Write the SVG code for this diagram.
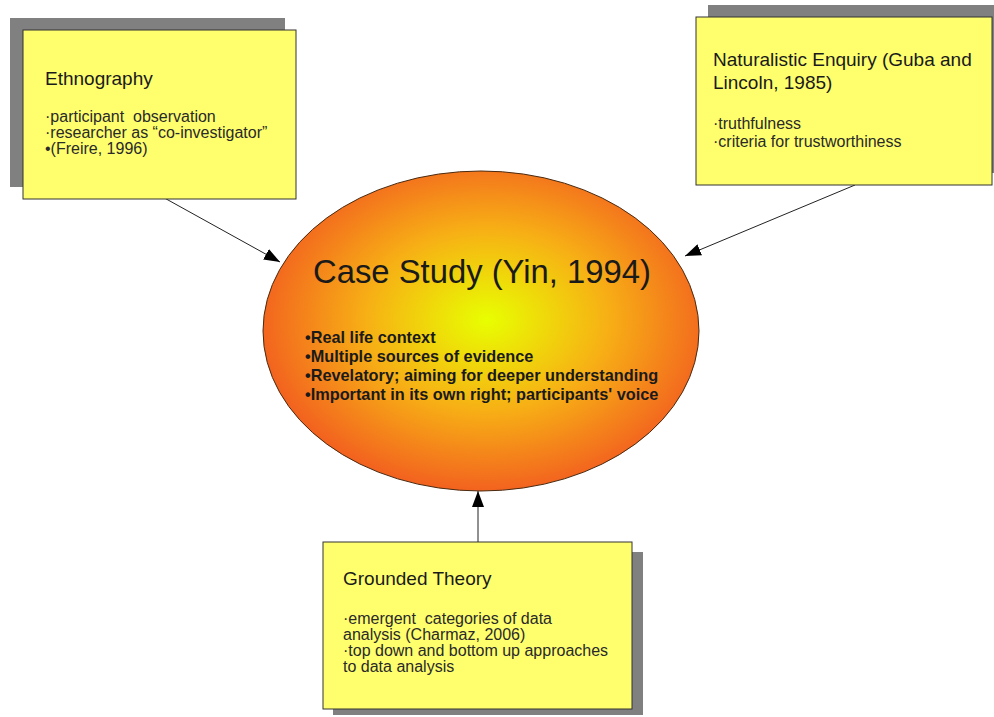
<svg xmlns="http://www.w3.org/2000/svg" width="994" height="717" viewBox="0 0 994 717">
<style>
.shadow{fill:#808080}
.box{fill:#ffff6e;stroke:#333;stroke-width:1}
.t{font-family:"Liberation Sans",Arial,sans-serif;fill:#1a1a1a;white-space:pre}
.h{font-size:19px}
.b{font-size:16px;fill:#2a2a2a}
.c{font-size:32.8px}
.k{font-size:16.3px;font-weight:bold}
.edge{stroke:#222;stroke-width:1;fill:none;marker-end:url(#ah)}
</style>
<defs>
<radialGradient id="g" cx="487" cy="320" r="240" gradientUnits="userSpaceOnUse" gradientTransform="translate(487 320) scale(1 0.75) translate(-487 -320)">
<stop offset="0" stop-color="#e8ff00"/>
<stop offset="0.5" stop-color="#f7b015"/>
<stop offset="1" stop-color="#f25a20"/>
</radialGradient>
<marker id="ah" viewBox="0 0 16 12" refX="16" refY="6" markerWidth="16" markerHeight="12" markerUnits="userSpaceOnUse" orient="auto">
<path d="M0,0 L16,6 L0,12 Z" fill="#000"/>
</marker>
</defs>
<g id="connectors">
<line class="edge" x1="150" y1="190" x2="280" y2="262"/>
<line class="edge" x1="855" y1="185" x2="685" y2="256"/>
<line class="edge" x1="478" y1="542" x2="478" y2="491"/>
</g>
<g id="ethnography">
<rect class="shadow" x="10" y="18" width="275" height="169"/>
<rect class="box" x="23" y="30" width="273" height="169"/>
<text class="t h" x="45" y="85">Ethnography</text>
<text class="t b" x="45" y="122" xml:space="preserve">·participant  observation</text>
<text class="t b" x="45" y="138">·researcher as “co-investigator”</text>
<text class="t b" x="45" y="154">•(Freire, 1996)</text>
</g>
<g id="naturalistic">
<rect class="shadow" x="708" y="5" width="286" height="168"/>
<rect class="box" x="696" y="17" width="296" height="168"/>
<text class="t h" x="713" y="66">Naturalistic Enquiry (Guba and</text>
<text class="t h" x="713" y="89">Lincoln, 1985)</text>
<text class="t b" x="713" y="129">·truthfulness</text>
<text class="t b" x="713" y="147">·criteria for trustworthiness</text>
</g>
<g id="grounded">
<rect class="shadow" x="333" y="552" width="310" height="163"/>
<rect class="box" x="323" y="542" width="309" height="167"/>
<text class="t h" x="343" y="585">Grounded Theory</text>
<text class="t b" x="343" y="624" xml:space="preserve">·emergent  categories of data</text>
<text class="t b" x="343" y="640">analysis (Charmaz, 2006)</text>
<text class="t b" x="343" y="656">·top down and bottom up approaches</text>
<text class="t b" x="343" y="672">to data analysis</text>
</g>
<g id="casestudy">
<ellipse cx="481" cy="331" rx="218" ry="160" fill="url(#g)" stroke="#4a2a10" stroke-width="1"/>
<text class="t c" x="313" y="283">Case Study (Yin, 1994)</text>
<text class="t k" x="305" y="343">•Real life context</text>
<text class="t k" x="305" y="362">•Multiple sources of evidence</text>
<text class="t k" x="305" y="381">•Revelatory; aiming for deeper understanding</text>
<text class="t k" x="305" y="400">•Important in its own right; participants' voice</text>
</g>
</svg>
